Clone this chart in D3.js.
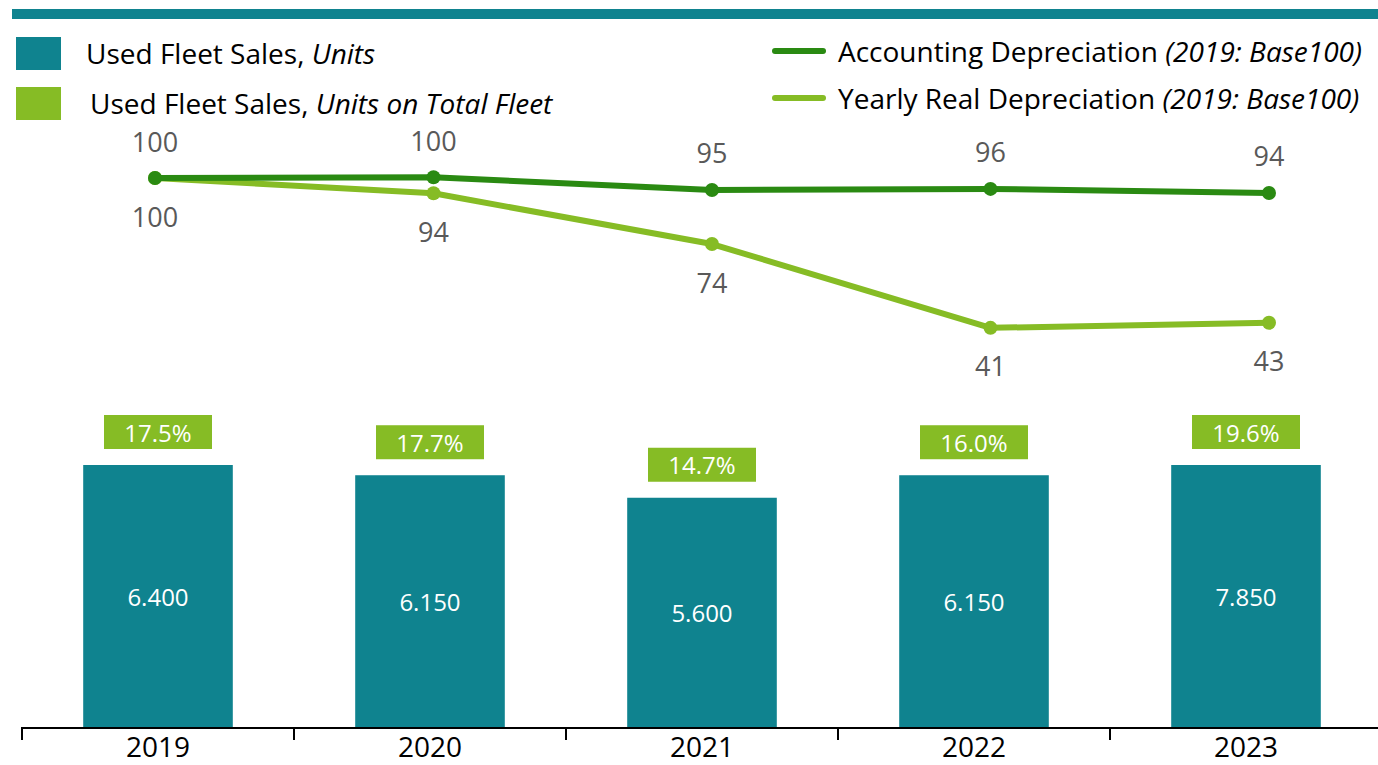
<!DOCTYPE html>
<html>
<head>
<meta charset="utf-8">
<script src="https://cdn.jsdelivr.net/npm/d3@7"></script>
<style>
  body { margin: 0; background: #fff; }
  svg { display: block; font-family: "Open Sans", Lato, sans-serif; }
</style>
</head>
<body>
<svg id="chart" width="1378" height="765"></svg>
<script>
// datos
var years = ["2019", "2020", "2021", "2022", "2023"];
var fleetSales = [6400, 6150, 5600, 6150, 7850];
var fleetShare = [17.5, 17.7, 14.7, 16.0, 19.6];
var accountingDep = [100, 100.3, 95.3, 95.7, 94.1];
var realDep = [100, 94, 74, 41, 43];

var teal = "#0f838f";
var darkGreen = "#2a8a12";
var lightGreen = "#86bc25";
var labelGray = "#595959";

var svg = d3.select("#chart");

// barra superior
svg.append("rect")
  .attr("x", 12).attr("y", 9)
  .attr("width", 1366).attr("height", 10)
  .style("fill", teal);

// escalas
var x = d3.scaleBand().domain(years).range([22, 1382]).paddingInner(0.45).paddingOuter(0.225);
var yBar = d3.scaleLinear().domain([0, 6400]).range([727, 465]).clamp(true);
var xLine = d3.scalePoint().domain(years).range([155, 1269]);
var yLine = d3.scaleLinear().domain([0, 100]).range([432, 178]);

// barras
var barData = years.map(function(y, i){ return {year: y, value: fleetSales[i], pct: fleetShare[i]}; });

var gBars = svg.append("g");
gBars.selectAll("rect.bar")
  .data(barData)
  .enter()
  .append("rect")
  .attr("class", "bar")
  .attr("x", function(d){ return x(d.year); })
  .attr("y", function(d){ return yBar(d.value); })
  .attr("width", x.bandwidth())
  .attr("height", function(d){ return yBar(0) - yBar(d.value); })
  .style("fill", teal);

gBars.selectAll("text.val")
  .data(barData)
  .enter()
  .append("text")
  .attr("class", "val")
  .attr("x", function(d){ return x(d.year) + x.bandwidth()/2; })
  .attr("y", function(d){ return (yBar(d.value) + yBar(0))/2; })
  .attr("text-anchor", "middle")
  .attr("dominant-baseline", "central")
  .style("fill", "#fff")
  .style("font-size", "24px")
  .text(function(d){ return d3.format(",")(d.value).replace(",", "."); });

// cajas de porcentaje
var boxW = 108, boxH = 34, boxGap = 16;
var gPct = gBars.selectAll("g.pct")
  .data(barData)
  .enter()
  .append("g")
  .attr("class", "pct")
  .attr("transform", function(d){
    return "translate(" + (x(d.year) + x.bandwidth()/2) + "," + (yBar(d.value) - boxGap - boxH/2) + ")";
  });
gPct.append("rect")
  .attr("x", -boxW/2).attr("y", -boxH/2)
  .attr("width", boxW).attr("height", boxH)
  .style("fill", lightGreen);
gPct.append("text")
  .attr("text-anchor", "middle")
  .attr("dominant-baseline", "central")
  .attr("y", 0)
  .style("fill", "#fff")
  .style("font-size", "24px")
  .text(function(d){ return d.pct.toFixed(1) + "%"; });

// eje
var axisY = 728;
svg.append("line")
  .attr("x1", 21).attr("x2", 1378)
  .attr("y1", axisY).attr("y2", axisY)
  .style("stroke", "#000").style("stroke-width", 2);
svg.selectAll("line.tick")
  .data(years)
  .enter()
  .append("line")
  .attr("class", "tick")
  .attr("x1", function(d){ return x(d) - x.step()*x.paddingInner()/2; })
  .attr("x2", function(d){ return x(d) - x.step()*x.paddingInner()/2; })
  .attr("y1", axisY).attr("y2", axisY + 12)
  .style("stroke", "#000").style("stroke-width", 2);
svg.selectAll("text.year")
  .data(years)
  .enter()
  .append("text")
  .attr("class", "year")
  .attr("x", function(d){ return x(d) + x.bandwidth()/2; })
  .attr("y", 757)
  .attr("text-anchor", "middle")
  .style("font-size", "28px")
  .style("fill", "#000")
  .text(function(d){ return d; });

// lineas
var lineGen = d3.line()
  .x(function(d){ return xLine(d.year); })
  .y(function(d){ return yLine(d.value); });

function drawSeries(values, color, labelOffset){
  var pts = years.map(function(y, i){ return {year: y, value: values[i]}; });
  var g = svg.append("g");
  g.append("path")
    .datum(pts)
    .attr("d", lineGen)
    .style("fill", "none")
    .style("stroke", color)
    .style("stroke-width", 6)
    .style("stroke-linejoin", "round");
  g.selectAll("circle")
    .data(pts)
    .enter()
    .append("circle")
    .attr("cx", function(d){ return xLine(d.year); })
    .attr("cy", function(d){ return yLine(d.value); })
    .attr("r", 7)
    .style("fill", color);
  g.selectAll("text")
    .data(pts)
    .enter()
    .append("text")
    .attr("x", function(d){ return xLine(d.year); })
    .attr("y", function(d){ return yLine(d.value) + labelOffset; })
    .attr("text-anchor", "middle")
    .attr("dominant-baseline", "central")
    .style("fill", labelGray)
    .style("font-size", "27px")
    .text(function(d){ return d3.format(".0f")(d.value); });
}
drawSeries(realDep, lightGreen, 38);
drawSeries(accountingDep, darkGreen, -37);

// leyenda izquierda
var legLeft = [
  {color: teal, y: 37, tx: 86, base: "Used Fleet Sales, ", it: "Units"},
  {color: lightGreen, y: 87, tx: 90, base: "Used Fleet Sales, ", it: "Units on Total Fleet"}
];
var gLeg = svg.append("g");
legLeft.forEach(function(l){
  gLeg.append("rect")
    .attr("x", 16).attr("y", l.y)
    .attr("width", 45).attr("height", 33)
    .style("fill", l.color);
  var t = gLeg.append("text")
    .attr("x", l.tx).attr("y", l.y + 27)
    .style("font-size", "28px").style("fill", "#000");
  t.append("tspan").text(l.base);
  t.append("tspan").style("font-style", "italic").text(l.it);
});

// leyenda derecha
var legRight = [
  {color: darkGreen, y: 51, base: "Accounting Depreciation ", it: "(2019: Base100)"},
  {color: lightGreen, y: 98, base: "Yearly Real Depreciation ", it: "(2019: Base100)"}
];
legRight.forEach(function(l){
  gLeg.append("line")
    .attr("x1", 775).attr("x2", 823)
    .attr("y1", l.y).attr("y2", l.y)
    .style("stroke", l.color).style("stroke-width", 6)
    .style("stroke-linecap", "round");
  var t = gLeg.append("text")
    .attr("x", 838).attr("y", l.y + 11)
    .style("font-size", "28px").style("fill", "#000");
  t.append("tspan").text(l.base);
  t.append("tspan").style("font-style", "italic").text(l.it);
});
</script>
</body>
</html>
